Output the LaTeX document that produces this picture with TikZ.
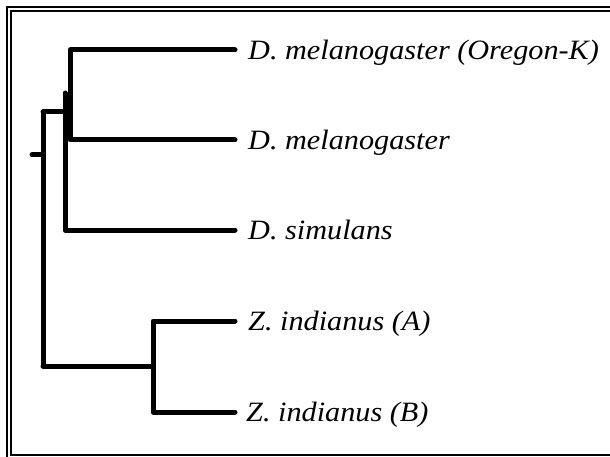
\documentclass[tikz,border=0pt]{standalone}
\usepackage{fontspec}
\setmainfont{Liberation Serif}
\newcommand{\wideit}[1]{\scalebox{1.08}[1]{#1}}
\begin{document}
\begin{tikzpicture}[x=1pt,y=-1pt,
  branch/.style={line width=5pt,line cap=round,line join=round,black},
  taxon/.style={anchor=base west,inner sep=0pt,font=\fontsize{28}{31}\selectfont\itshape}]
\useasboundingbox (0,0) rectangle (610,457);
% frame
\draw[line width=2.2pt] (6.8,457) -- (6.8,6.8) -- (610,6.8);
\draw[line width=1.4pt] (610,11) -- (11,11) -- (11,455) -- (610,455);
% tree coordinates
\coordinate (stub) at (32,155);
\coordinate (root) at (43,155);
\coordinate (dros) at (65,112);
\coordinate (mel) at (70,95);
\coordinate (zind) at (153,366);
\coordinate (e1) at (235,50);
\coordinate (e2) at (235,140);
\coordinate (e3) at (235,230);
\coordinate (e4) at (235,321);
\coordinate (e5) at (235,412);
% labels
\node[taxon] (t1) at (248,59.5) {\wideit{D. melanogaster (Oregon-K)}};
\node[taxon] (t2) at (248,149.5) {\wideit{D. melanogaster}};
\node[taxon] (t3) at (248,239.5) {\wideit{D. simulans}};
\node[taxon] (t4) at (248,330.5) {\wideit{Z. indianus (A)}};
\node[taxon] (t5) at (246,421.5) {\wideit{Z. indianus (B)}};
% branches
\draw[branch] (stub) -- (root);
\draw[branch] (43,112) -- (43,366);
\draw[branch] (43,112) -- (dros);
\draw[branch] (65,93) -- (65,230) -- (e3);
\draw[branch] (mel) -- (70,50) -- (e1);
\draw[branch] (mel) -- (70,140) -- (e2);
\draw[branch] (43,366) -- (zind);
\draw[branch] (zind) -- (153,321) -- (e4);
\draw[branch] (zind) -- (153,412) -- (e5);
\end{tikzpicture}
\end{document}
